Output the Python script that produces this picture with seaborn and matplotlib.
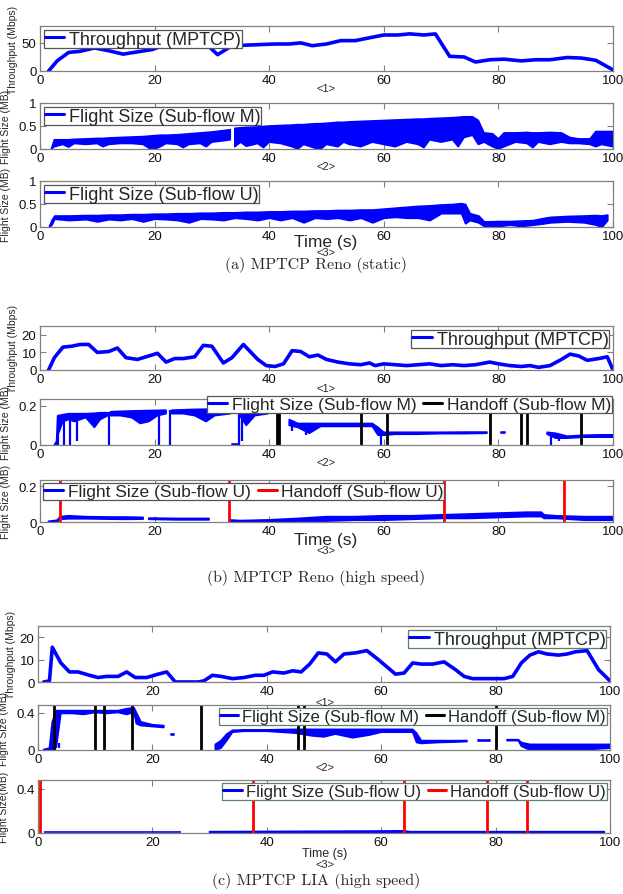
import numpy as np
import matplotlib
matplotlib.use("Agg")
import matplotlib.pyplot as plt
import seaborn as sns
from matplotlib.lines import Line2D

nan = np.nan
# ---------------- data ----------------
# (a) throughput
tput_a_t = [1.5, 3, 5, 7, 9.5, 12, 14.5, 17, 19.5, 21.5, 24, 26.5, 29, 31, 33.5, 36, 38.5, 41, 43.5, 45.5,
            47.5, 50, 52.5, 55, 57.5, 60, 62.5, 64.5, 67, 69, 71.5, 74, 76, 78.5, 81, 84, 86.5, 89, 92, 94.5, 97, 100]
tput_a_v = [0, 18, 33, 35, 41, 36, 30, 34, 38, 45, 44, 47, 48, 29, 45, 46, 47, 48, 48, 50,
            45, 48, 54, 54, 59, 64, 64, 66, 64, 66, 26, 25, 16, 20, 21, 18, 20, 20, 24, 23, 19, 2]
# (a) flight size M  (time, lower, upper)
fs_a_m = [(2.0, 0, 0), (2.5, 0.05, 0.2), (4, 0.1, 0.2), (5, 0.04, 0.2), (6, 0.12, 0.21), (8, 0.1, 0.22),
          (10, 0.12, 0.23), (11, 0.05, 0.23), (12, 0.1, 0.24), (14, 0.12, 0.25), (16, 0.12, 0.26), (18, 0.1, 0.27),
          (19, 0.02, 0.28), (20, 0.0, 0.29), (21, 0.05, 0.3), (22, 0.12, 0.3), (24, 0.1, 0.31), (25, 0.03, 0.32),
          (26, 0.1, 0.33), (28, 0.12, 0.35), (29, 0.05, 0.36), (30, 0.15, 0.37), (32, 0.18, 0.4), (33.2, 0.2, 0.42),
          (33.6, nan, nan), (34, 0.05, 0.45), (35, 0.15, 0.46), (36, 0.06, 0.47), (38, 0.12, 0.48), (39, 0.03, 0.49),
          (40, 0.15, 0.5), (42, 0.12, 0.51), (44, 0.05, 0.52), (45, 0.0, 0.53), (46, 0.1, 0.53), (48, 0.02, 0.55),
          (49, 0.0, 0.55), (50, 0.1, 0.56), (52, 0.05, 0.58), (53, 0.15, 0.58), (54, 0.1, 0.59), (56, 0.05, 0.6),
          (58, 0.15, 0.61), (60, 0.1, 0.62), (62, 0.05, 0.63), (64, 0.15, 0.64), (66, 0.1, 0.65), (67, 0.03, 0.65),
          (68, 0.2, 0.66), (70, 0.15, 0.67), (72, 0.2, 0.68), (73, 0.05, 0.69), (74, 0.25, 0.7), (75.5, 0.3, 0.7),
          (76.5, 0.1, 0.62), (77.5, 0.15, 0.35), (79, 0.05, 0.33), (80, 0.0, 0.22), (81, 0.05, 0.35),
          (83, 0.15, 0.35), (85, 0.12, 0.36), (86, 0.03, 0.35), (87, 0.15, 0.35), (89, 0.1, 0.36), (91, 0.15, 0.35),
          (92.5, 0.12, 0.25), (94, 0.12, 0.22), (96, 0.1, 0.22), (97, 0.05, 0.38), (98, 0.1, 0.38), (100, 0.05, 0.38)]
# (a) flight size U
fs_a_u = [(1.5, 0, 0), (2.0, 0.05, 0.15), (2.5, 0.18, 0.25), (5, 0.15, 0.25), (8, 0.17, 0.26), (10, 0.12, 0.26),
          (12, 0.17, 0.27), (14, 0.15, 0.27), (16, 0.18, 0.28), (18, 0.12, 0.28), (20, 0.18, 0.29), (22, 0.17, 0.29),
          (24, 0.15, 0.3), (26, 0.1, 0.3), (28, 0.18, 0.31), (30, 0.17, 0.31), (32, 0.15, 0.32), (34, 0.2, 0.32),
          (36, 0.18, 0.33), (38, 0.15, 0.33), (40, 0.2, 0.34), (42, 0.15, 0.34), (44, 0.2, 0.35), (46, 0.1, 0.35),
          (48, 0.2, 0.36), (50, 0.18, 0.36), (52, 0.2, 0.37), (54, 0.15, 0.37), (56, 0.2, 0.38), (58, 0.1, 0.38),
          (60, 0.2, 0.4), (62, 0.22, 0.42), (64, 0.2, 0.44), (66, 0.2, 0.46), (68, 0.15, 0.47), (70, 0.3, 0.49),
          (72, 0.3, 0.5), (73.5, 0.3, 0.52), (74.2, 0.08, 0.5), (75, 0.15, 0.3), (76.5, 0.1, 0.25), (77.5, 0.02, 0.12),
          (80, 0.02, 0.13), (82, 0.05, 0.13), (84, 0.02, 0.14), (86, 0.05, 0.15), (88, 0.08, 0.2), (89, 0.1, 0.22),
          (92, 0.12, 0.24), (95, 0.1, 0.25), (97, 0.05, 0.26), (98, 0.0, 0.25), (99, 0.15, 0.27)]

# (b) throughput
tput_b_t = [1.5, 2.5, 4, 5.5, 7, 8.5, 10, 12, 13.5, 15, 17, 19, 20.5, 22, 23.5, 25, 27, 28.5, 30, 32, 33.5, 35.5,
            38, 39.5, 41, 42.5, 44, 45.5, 47, 48.5, 50, 52, 54, 56, 57.5, 58.5, 60, 62, 64, 66, 68, 70, 72, 74, 76,
            78.5, 80, 82, 84, 85.5, 87, 89, 91, 92.5, 94, 95.5, 97.5, 99, 100]
tput_b_v = [0, 7, 13, 13.5, 14.5, 14.5, 10, 10.5, 12.5, 7, 6, 8, 9.5, 4.5, 6.5, 6.5, 7.5, 14, 13.5, 4, 7, 14.5,
            6, 2.5, 2, 3.5, 11, 10.5, 7.5, 8.5, 6, 4.5, 3.5, 3, 4, 2.5, 3.5, 3, 2.5, 3, 3.5, 2.5, 3, 2.5, 3,
            4.5, 3.5, 2.5, 2, 2.5, 1.5, 2.5, 6, 9, 8, 5.5, 6.5, 7.5, 0]
# (b) flight size M
fs_b_m = [(2.5, 0, 0), (2.9, 0, 0.02), (3.1, 0.05, 0.15), (4, 0.12, 0.155), (5, 0.13, 0.16), (6, 0.12, 0.16),
          (8, 0.14, 0.16), (9.5, 0.09, 0.162), (10.5, 0.13, 0.165), (11.8, 0.15, 0.165), (12.0, nan, nan),
          (12.3, 0.15, 0.17), (14, 0.15, 0.172), (16, 0.14, 0.174), (17.5, 0.11, 0.175), (19, 0.12, 0.176),
          (20.5, 0.15, 0.177), (22, 0.16, 0.178), (22.4, nan, nan),
          (23, 0.16, 0.178), (25, 0.16, 0.18), (27, 0.15, 0.182), (29, 0.12, 0.183), (30.5, 0.15, 0.184),
          (33.2, 0.16, 0.185), (33.4, nan, nan),
          (33.5, 0, 0.004), (34.6, 0, 0.004), (34.7, nan, nan),
          (34.9, 0.15, 0.19), (36, 0.1, 0.19), (37.5, 0.15, 0.19), (39.8, 0.16, 0.19), (40, nan, nan),
          (43.5, 0.1, 0.13), (45, 0.09, 0.11), (47, 0.06, 0.11), (49, 0.095, 0.11), (52, 0.095, 0.11),
          (55, 0.095, 0.11), (58, 0.095, 0.11), (59, 0.05, 0.09), (60, 0.05, 0.065), (62, 0.055, 0.065),
          (66, 0.055, 0.065), (70, 0.058, 0.065), (74, 0.058, 0.066), (78, 0.06, 0.066), (78.2, nan, nan),
          (80.5, 0.06, 0.066), (81.2, 0.06, 0.066), (81.3, nan, nan),
          (88.5, 0.055, 0.065), (90, 0.035, 0.06), (92, 0.035, 0.045), (95, 0.04, 0.05), (98, 0.04, 0.052),
          (100, 0.04, 0.052)]
spk_b_m_x = [3.2, 4.2, 5.2, 6.5, 12.1, 20.8, 22.7, 34.7, 35.2, 44, 46.5, 59.5, 89.2, 90.5]
spk_b_m_lo = [0, 0, 0, 0.02, 0, 0, 0, 0, 0.02, 0.07, 0.05, 0.0, 0.0, 0.02]
spk_b_m_hi = [0.15, 0.15, 0.15, 0.15, 0.17, 0.17, 0.178, 0.185, 0.19, 0.13, 0.1, 0.06, 0.06, 0.05]
hand_b_m = [41.3, 41.7, 56, 60.5, 78.5, 84, 85, 94.5]
# (b) flight size U
fs_b_u = [(1.5, 0, 0.004), (3, 0.0, 0.01), (3.5, 0.015, 0.03), (5, 0.018, 0.035), (8, 0.018, 0.03),
          (12, 0.016, 0.028), (15, 0.015, 0.028), (18, 0.016, 0.026), (18.2, nan, nan),
          (19, 0.015, 0.022), (24, 0.012, 0.02), (29.5, 0.012, 0.02), (29.7, nan, nan),
          (33, 0.0, 0.012), (35, 0.0, 0.008), (40, 0.002, 0.012), (45, 0.005, 0.02), (50, 0.005, 0.03),
          (55, 0.01, 0.03), (60, 0.01, 0.035), (65, 0.015, 0.035), (70, 0.02, 0.04), (75, 0.02, 0.045),
          (80, 0.025, 0.05), (85, 0.03, 0.055), (87.5, 0.03, 0.055), (88, 0.02, 0.04), (90, 0.02, 0.035),
          (95, 0.01, 0.03), (100, 0.01, 0.03)]
hand_b_u = [3.5, 33, 70.5, 91.5]

# (c) throughput
tput_c_t = [1, 2, 2.5, 4, 5.5, 7, 9, 10.5, 12, 14, 15.5, 17, 19, 21, 22.5, 24, 26, 28, 29, 30.5, 32, 34, 36,
            38, 39.5, 41, 43, 44.5, 46, 47.5, 49, 50.5, 52, 53.5, 55.5, 57.5, 59.5, 62.5, 64, 65.5, 67, 69, 71,
            73, 74.5, 76, 78, 80, 81.5, 83, 84.5, 86, 87.5, 89, 91, 92.5, 94, 96, 98, 100]
tput_c_v = [0, 0.5, 15.5, 8.5, 4.5, 4.5, 3, 2, 2.5, 2.5, 4.5, 2, 2, 3.5, 4.5, 0, 0, 0, 0.5, 3, 2.5, 1.5, 2,
            3, 3, 4.5, 4, 5, 4.5, 8, 13, 12.5, 9, 12.5, 13, 14, 10, 3.5, 4, 8.5, 8, 8, 9,
            5.5, 2.5, 1.5, 1.5, 1.5, 1.5, 2.5, 8.5, 12, 13.5, 12.5, 12, 12.5, 13.5, 14, 5.5, 0.5]
# (c) flight size M
fs_c_m = [(1.0, 0, 0.005), (2.0, 0, 0.02), (2.5, 0.0, 0.3), (3.2, 0.03, 0.42), (4, 0.39, 0.42), (6, 0.39, 0.42),
          (8, 0.38, 0.42), (10, 0.4, 0.42), (12, 0.39, 0.42), (14, 0.4, 0.42), (15.5, 0.38, 0.44),
          (16.8, 0.4, 0.45), (17.2, 0.28, 0.4), (18, 0.26, 0.3), (20, 0.25, 0.27), (22, 0.24, 0.26),
          (22.2, nan, nan), (23.3, 0.165, 0.175), (23.7, 0.165, 0.175), (23.9, nan, nan),
          (31, 0.0, 0.06), (32, 0.02, 0.1), (33, 0.1, 0.17), (34, 0.19, 0.21), (36, 0.2, 0.215), (40, 0.2, 0.215),
          (45, 0.18, 0.22), (48, 0.15, 0.22), (50, 0.14, 0.22), (52, 0.17, 0.22), (55, 0.13, 0.22),
          (58, 0.16, 0.22), (60, 0.19, 0.22), (63, 0.19, 0.22), (65.5, 0.19, 0.22), (66.2, 0.08, 0.18),
          (67, 0.07, 0.1), (70, 0.08, 0.1), (73, 0.085, 0.1), (75, 0.09, 0.1), (75.2, nan, nan),
          (77, 0.095, 0.103), (79, 0.095, 0.103), (79.2, nan, nan),
          (82, 0.1, 0.11), (84, 0.1, 0.11), (84.5, 0.04, 0.08), (86, 0.0, 0.06), (90, 0.01, 0.06),
          (95, 0.0, 0.06), (100, 0.02, 0.06)]
spk_c_m_x = [2.4, 3.0, 3.6]
spk_c_m_lo = [0.0, 0.0, 0.02]
spk_c_m_hi = [0.25, 0.42, 0.07]
hand_c_m = [2.8, 10, 11.5, 16.5, 28.5, 45.5, 46.5, 80]
# (c) flight size U
fs_c_u = [(1, 0.005, 0.012), (25, 0.005, 0.012), (25.2, nan, nan), (30, 0.005, 0.012), (60, 0.006, 0.018),
          (64, 0.006, 0.02), (65, 0.004, 0.012), (99, 0.004, 0.012)]
hand_c_u = [0.3, 37.5, 64, 78.5, 85.5]

# ---------------- style ----------------
sns.set_theme(style="white")
plt.rcParams["font.family"] = ["Liberation Sans", "DejaVu Sans"]
BLUE = "#0000FF"
SPINE = "#808080"

W, H = 623, 895
fig = plt.figure(figsize=(W / 100, H / 100), dpi=100)


def add_ax(left, top, right, bottom):
    return fig.add_axes([left / W, 1 - bottom / H, (right - left) / W, (bottom - top) / H])


def style(ax, ylim, yticks, xticks=(0, 20, 40, 60, 80, 100)):
    ax.set_xlim(0, 100)
    ax.set_ylim(*ylim)
    ax.set_xticks(list(xticks))
    ax.set_yticks(yticks)
    ax.tick_params(direction="in", length=4, width=0.8, color=SPINE, labelsize=9.5,
                   top=True, right=True, bottom=True, left=True, labelcolor="#111")
    ax.tick_params(axis="x", pad=2.5)
    ax.tick_params(axis="y", pad=2.5)
    for s in ax.spines.values():
        s.set_color(SPINE)
        s.set_linewidth(0.9)
    ax.grid(False)


def throughput(ax, t, v):
    sns.lineplot(x=t, y=v, ax=ax, color=BLUE, lw=2.6, estimator=None, legend=False)
    ax.set_xlabel("")
    ax.set_ylabel("")


def flight(ax, rows):
    arr = np.array(rows, dtype=float)
    ax.fill_between(arr[:, 0], arr[:, 1], arr[:, 2], color=BLUE, lw=1.2, edgecolor=BLUE)


def legend(ax, labels, colors, ec="#555555", **kw):
    handles = [Line2D([], [], color=c, lw=2.2) for c in colors]
    lg = ax.legend(handles, labels, frameon=True, fancybox=False, framealpha=1, borderpad=0.05,
                   handlelength=1.1, handletextpad=0.25, columnspacing=0.4, borderaxespad=0.2, **kw)
    lg.get_frame().set_edgecolor(ec)
    lg.get_frame().set_linewidth(0.9)
    return lg


def ylab(ax, text, x, size=7.5):
    ax.text(x, 0.5, text, transform=ax.transAxes, rotation=90, ha="center", va="center", fontsize=size)


def ftext(text, y, size=8, x=326, **kw):
    fig.text(x / W, 1 - y / H, text, ha="center", va="center", fontsize=size, **kw)


def caption(text, y):
    ftext(text, y, size=11.5, x=316, family="cmr10")


# ---------------- panel (a) ----------------
ax1 = add_ax(40, 27, 613, 72)
throughput(ax1, tput_a_t, tput_a_v)
style(ax1, (0, 80), [0, 50])
legend(ax1, ["Throughput (MPTCP)"], [BLUE], loc="upper left", fontsize=13)
ylab(ax1, "Throughput (Mbps)", -0.047)
ftext("<1>", 89)

ax2 = add_ax(40, 104, 613, 150)
flight(ax2, fs_a_m)
style(ax2, (0, 1), [0, 0.5, 1])
ax2.set_yticklabels(["0", "0.5", "1"])
legend(ax2, ["Flight Size (Sub-flow M)"], [BLUE], loc="upper left", fontsize=13)
ylab(ax2, "Flight Size (MB)", -0.06)
ftext("<2>", 167)

ax3 = add_ax(40, 182, 613, 228)
flight(ax3, fs_a_u)
style(ax3, (0, 1), [0, 0.5, 1])
ax3.set_yticklabels(["0", "0.5", "1"])
legend(ax3, ["Flight Size (Sub-flow U)"], [BLUE], loc="upper left", fontsize=13)
ylab(ax3, "Flight Size (MB)", -0.06)
ftext("Time (s)", 242, size=12.5)
ftext("<3>", 253)
caption("(a) MPTCP Reno (static)", 265)

# ---------------- panel (b) ----------------
ax4 = add_ax(40, 327, 613, 371)
throughput(ax4, tput_b_t, tput_b_v)
style(ax4, (0, 25), [0, 10, 20])
legend(ax4, ["Throughput (MPTCP)"], [BLUE], loc="upper right", fontsize=13)
ylab(ax4, "Throughput (Mbps)", -0.047)
ftext("<1>", 389)

ax5 = add_ax(40, 400, 613, 446)
flight(ax5, fs_b_m)
ax5.vlines(spk_b_m_x, spk_b_m_lo, spk_b_m_hi, color=BLUE, lw=1.6)
for xh in hand_b_m:
    ax5.axvline(xh, color="black", lw=2)
style(ax5, (0, 0.235), [0, 0.2])
ax5.set_yticklabels(["0", "0.2"])
legend(ax5, ["Flight Size (Sub-flow M)", "Handoff (Sub-flow M)"], [BLUE, "black"], ncol=2,
       loc="upper right", bbox_to_anchor=(1.004, 1.14), fontsize=12.5)
ylab(ax5, "Flight Size (MB)", -0.06)
ftext("<2>", 463)

ax6 = add_ax(40, 481, 613, 523)
flight(ax6, fs_b_u)
for xh in hand_b_u:
    ax6.axvline(xh, color="red", lw=2)
style(ax6, (0, 0.235), [0, 0.2])
ax6.set_yticklabels(["0", "0.2"])
legend(ax6, ["Flight Size (Sub-flow U)", "Handoff (Sub-flow U)"], [BLUE, "red"], ncol=2,
       loc="upper left", bbox_to_anchor=(0.0, 1.0), fontsize=12.5)
ylab(ax6, "Flight Size (MB)", -0.06)
ftext("Time (s)", 540, size=12.5)
ftext("<3>", 551)
caption("(b) MPTCP Reno (high speed)", 578)

# ---------------- panel (c) ----------------
ax7 = add_ax(38, 627, 610, 683)
throughput(ax7, tput_c_t, tput_c_v)
style(ax7, (0, 25), [0, 10, 20], xticks=(20, 40, 60, 80, 100))
legend(ax7, ["Throughput (MPTCP)"], [BLUE], ec="#5f7f6f", loc="upper right", fontsize=13)
ylab(ax7, "Throughput (Mbps)", -0.047)
ftext("<1>", 703, x=325)

ax8 = add_ax(38, 706, 610, 751)
flight(ax8, fs_c_m)
ax8.vlines(spk_c_m_x, spk_c_m_lo, spk_c_m_hi, color=BLUE, lw=1.6)
for xh in hand_c_m:
    ax8.axvline(xh, color="black", lw=2)
style(ax8, (0, 0.48), [0, 0.4])
ax8.set_yticklabels(["0", "0.4"])
legend(ax8, ["Flight Size (Sub-flow M)", "Handoff (Sub-flow M)"], [BLUE, "black"], ec="#5f7f6f", ncol=2,
       loc="upper right", bbox_to_anchor=(1.0, 1.0), fontsize=12)
ylab(ax8, "Flight Size (MB)", -0.06)
ftext("<2>", 768, x=325)

ax9 = add_ax(38, 781, 610, 834)
flight(ax9, fs_c_u)
for xh in hand_c_u:
    ax9.axvline(xh, color="red", lw=2)
style(ax9, (0, 0.48), [0, 0.4])
ax9.set_yticklabels(["0", "0.4"])
legend(ax9, ["Flight Size (Sub-flow U)", "Handoff (Sub-flow U)"], [BLUE, "red"], ec="#5f7f6f", ncol=2,
       loc="upper right", bbox_to_anchor=(1.0, 1.0), fontsize=12)
ylab(ax9, "Flight Size(MB)", -0.06)
ftext("Time (s)", 854, size=9, x=325)
ftext("<3>", 865, x=325)
caption("(c) MPTCP LIA (high speed)", 881)

fig.savefig("out.png", dpi=100)
